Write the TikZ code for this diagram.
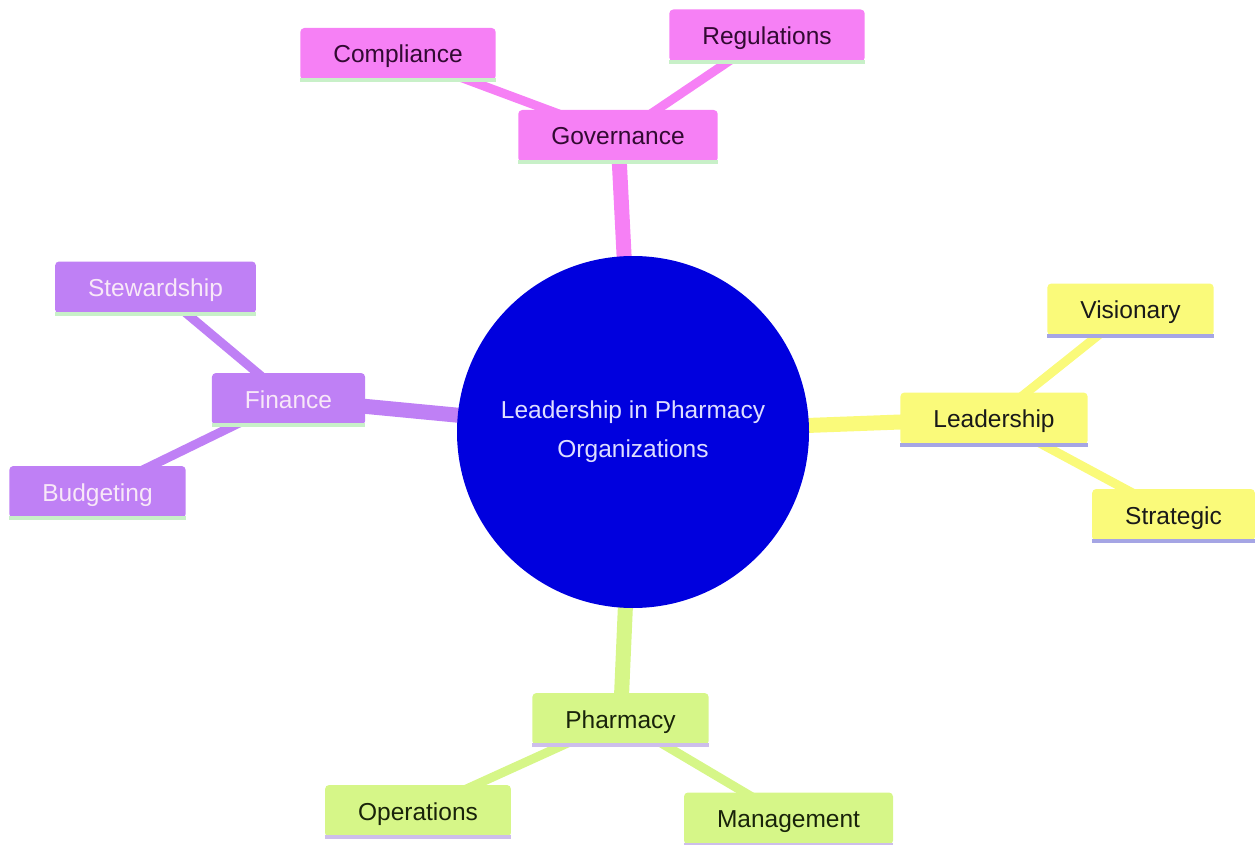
\documentclass[tikz,border=0pt]{standalone}
\usepackage{fontspec}
\setmainfont{Liberation Sans}
\definecolor{cpink}{RGB}{246,128,245}
\definecolor{cpurple}{RGB}{191,128,245}
\definecolor{cyellow}{RGB}{250,250,122}
\definecolor{cgreen}{RGB}{214,246,136}
\definecolor{cblue}{RGB}{0,0,222}
\definecolor{spgreen}{RGB}{200,240,200}
\definecolor{spblue}{RGB}{165,165,228}
\definecolor{splav}{RGB}{205,190,235}
\definecolor{tpink}{RGB}{50,10,50}
\definecolor{tpurple}{RGB}{248,232,248}
\definecolor{tdark}{RGB}{25,25,25}
\definecolor{tgreen}{RGB}{25,35,10}
\definecolor{tcenter}{RGB}{222,222,255}
\tikzset{
  box/.style={rectangle, rounded corners=4pt, inner xsep=33pt, minimum height=52pt,
    text height=18pt, text depth=0pt, font=\fontsize{24.5}{29}\selectfont},
  pinkbox/.style={box, fill=cpink, text=tpink},
  purplebox/.style={box, fill=cpurple, text=tpurple},
  yellowbox/.style={box, fill=cyellow, text=tdark},
  greenbox/.style={box, fill=cgreen, text=tgreen},
  root/.style={circle, fill=cblue, minimum size=352pt, inner sep=0pt, text=tcenter,
    align=center, font=\fontsize{24.5}{39}\selectfont},
  edgeA/.style={line width=15pt},
  edgeB/.style={line width=9pt},
  stripe/.style={line width=4pt},
}
\begin{document}
\begin{tikzpicture}[x=1pt,y=-1pt]
\useasboundingbox (0,0) rectangle (1260,845);
% coordinates of node centres
\coordinate (pC) at (633,432);
\coordinate (pGov) at (618,136);
\coordinate (pComp) at (398,54);
\coordinate (pReg) at (767,35.5);
\coordinate (pFin) at (288.5,399);
\coordinate (pStew) at (155.5,287.5);
\coordinate (pBud) at (97.5,492);
\coordinate (pLead) at (994,418.5);
\coordinate (pVis) at (1130.5,309.5);
\coordinate (pStrat) at (1173.5,515);
\coordinate (pPharm) at (620.5,719);
\coordinate (pOps) at (418,811);
\coordinate (pMan) at (788.5,818.5);
% edges
\draw[edgeA, cpink] (pC) -- (pGov);
\draw[edgeB, cpink] (pGov) -- (pComp);
\draw[edgeB, cpink] (pGov) -- (pReg);
\draw[edgeA, cpurple] (pC) -- (pFin);
\draw[edgeB, cpurple] (pFin) -- (pStew);
\draw[edgeB, cpurple] (pFin) -- (pBud);
\draw[edgeA, cyellow] (pC) -- (pLead);
\draw[edgeB, cyellow] (pLead) -- (pVis);
\draw[edgeB, cyellow] (pLead) -- (pStrat);
\draw[edgeA, cgreen] (pC) -- (pPharm);
\draw[edgeB, cgreen] (pPharm) -- (pOps);
\draw[edgeB, cgreen] (pPharm) -- (pMan);
% nodes
\node[root] (c) at (pC) {Leadership in Pharmacy\\Organizations};
\node[pinkbox] (gov) at (pGov) {Governance};
\node[pinkbox] (comp) at (pComp) {Compliance};
\node[pinkbox] (reg) at (pReg) {Regulations};
\node[purplebox] (fin) at (pFin) {Finance};
\node[purplebox] (stew) at (pStew) {Stewardship};
\node[purplebox] (bud) at (pBud) {Budgeting};
\node[yellowbox] (lead) at (pLead) {Leadership};
\node[yellowbox] (vis) at (pVis) {Visionary};
\node[yellowbox] (strat) at (pStrat) {Strategic};
\node[greenbox] (pharm) at (pPharm) {Pharmacy};
\node[greenbox] (ops) at (pOps) {Operations};
\node[greenbox] (man) at (pMan) {Management};
% bottom stripes
\foreach \n in {gov,comp,reg,fin,stew,bud}
  \draw[stripe, spgreen] (\n.south west) -- (\n.south east);
\foreach \n in {lead,vis,strat}
  \draw[stripe, spblue] (\n.south west) -- (\n.south east);
\foreach \n in {pharm,ops,man}
  \draw[stripe, splav] (\n.south west) -- (\n.south east);
\end{tikzpicture}
\end{document}
